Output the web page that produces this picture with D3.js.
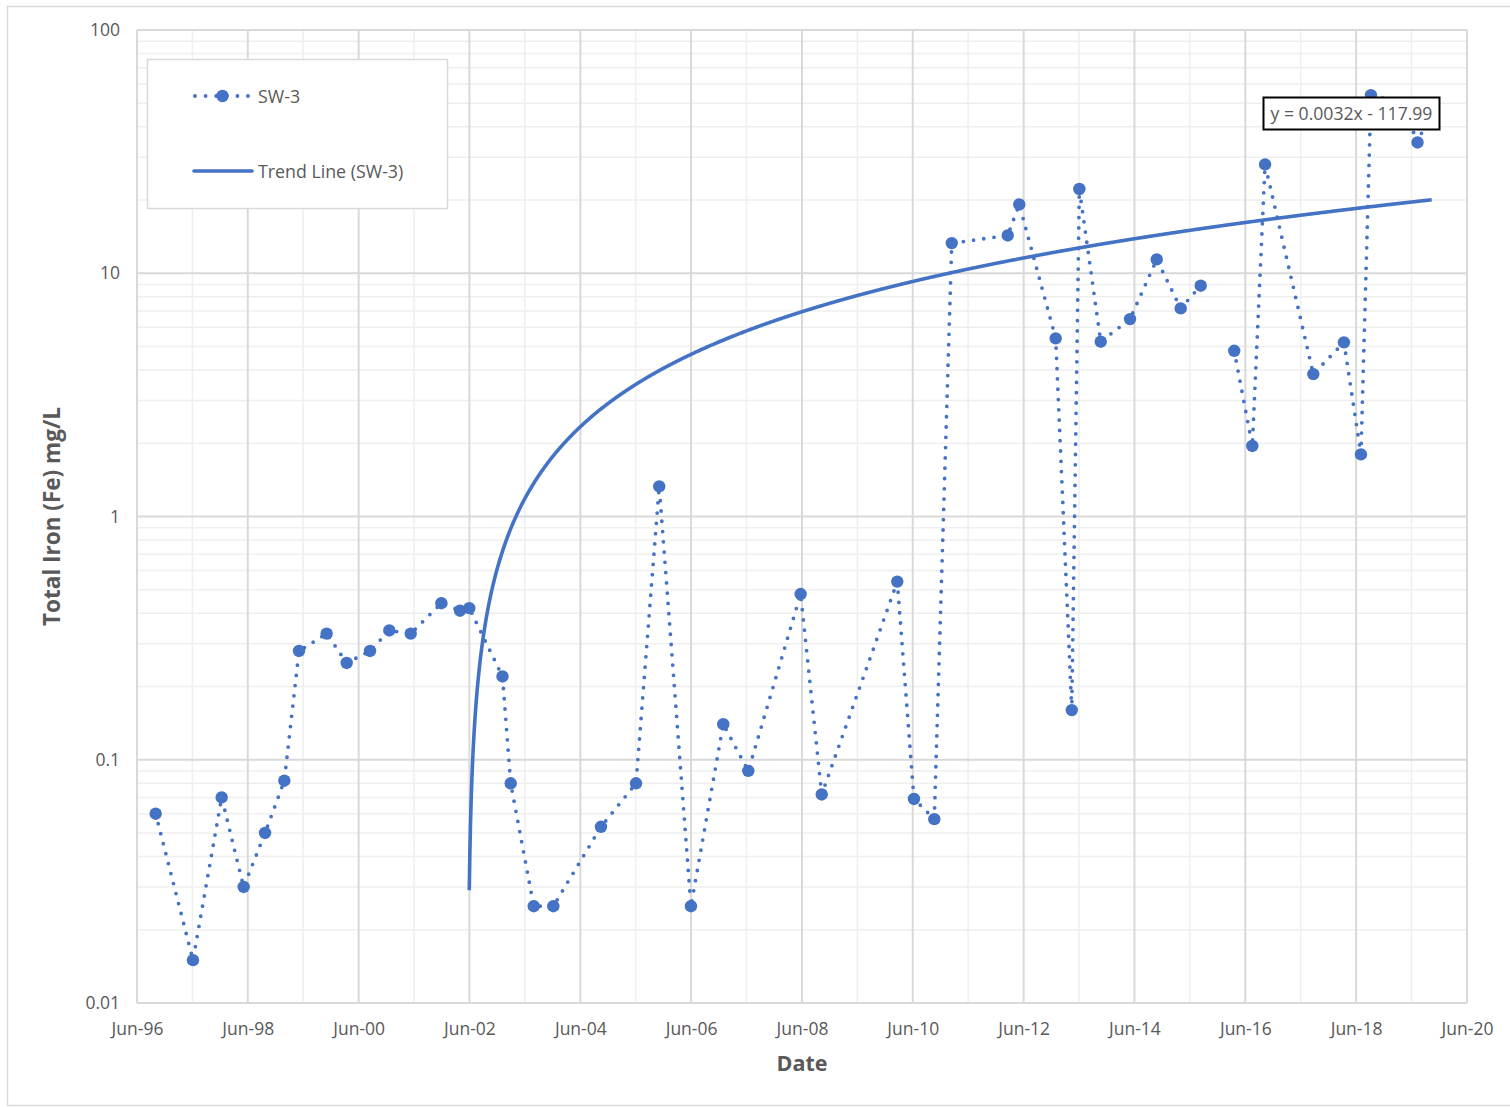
<!DOCTYPE html>
<html>
<head>
<meta charset="utf-8">
<script src="https://cdn.jsdelivr.net/npm/d3@7"></script>
<style>
  html, body { margin: 0; padding: 0; background: #fff; }
  svg { display: block; }
  text { font-family: "Open Sans", "Noto Sans", "DejaVu Sans", sans-serif; fill: #595959; }
</style>
</head>
<body>
<svg id="chart" width="1510" height="1107"></svg>
<script>
// SW-3 total iron samples (mg/L); null marks a missing sample, which breaks the line
const sampleDates = [
  "1996-10-02","1997-06-05","1997-12-11","1998-05-05","1998-09-23","1999-01-28","1999-05-05","1999-11-03","2000-03-14","2000-08-15",
  "2000-12-20","2001-05-10","2001-11-28","2002-03-31","2002-05-31","2003-01-05","2003-02-28","2003-07-30","2003-12-06","2004-10-15",
  "2005-06-03","2005-11-03","2006-05-31","2006-12-30","2007-06-13","2008-05-23","2008-10-09","2010-02-19","2010-06-09","2010-10-21",
  "2011-02-13","2012-02-17","2012-05-03","2012-12-29","2013-04-14","2013-06-03","2013-10-22","2014-05-03","2014-10-26","2015-04-02",
  "2015-08-12","2015-12-01","2016-03-20","2016-07-17","2016-10-09","2017-08-23","2018-03-13","2018-07-03","2018-09-07","2019-03-31",
  "2019-07-11","2019-10-12"
];
const ironValues = [
  0.06, 0.015, 0.07, 0.03, 0.05, 0.082, 0.28, 0.33, 0.25, 0.28,
  0.34, 0.33, 0.44, 0.41, 0.42, 0.22, 0.08, 0.025, 0.025, 0.053,
  0.08, 1.33, 0.025, 0.14, 0.09, 0.48, 0.072, 0.54, 0.069, 0.057,
  13.3, 14.3, 19.2, 5.4, 0.16, 22.2, 5.23, 6.48, 11.4, 7.17,
  8.89, null, 4.8, 1.95, 28, 3.85, 5.2, 1.8, 54, 50,
  34.5, 47
];

// Linear fit of value against spreadsheet serial date (days since 1899-12-30)
const trendSlope = 0.003155;
const trendIntercept = -117.99;

const xTickLabels = ["Jun-96","Jun-98","Jun-00","Jun-02","Jun-04","Jun-06","Jun-08","Jun-10","Jun-12","Jun-14","Jun-16","Jun-18","Jun-20"];
const yTickValues = [0.01, 0.1, 1, 10, 100];
const yTickLabels = ["0.01", "0.1", "1", "10", "100"];

const seriesName = "SW-3";
const trendName = "Trend Line (SW-3)";
const xTitle = "Date";
const yTitle = "Total Iron (Fe) mg/L";

// ---------------------------------------------------------------------------
const W = 1510, H = 1107;
const plot = { left: 137, right: 1467, top: 30, bottom: 1003 };
const blue = "#4472C4";
const fontStack = '"Open Sans", "Noto Sans", sans-serif';

const svg = d3.select("#chart");
const parseIso = d3.utcParse("%Y-%m-%d");
const parseTick = d3.utcParse("%b-%y");
const fmtTick = d3.utcFormat("%b-%y");

const xTicks = xTickLabels.map(parseTick);
const x = d3.scaleUtc()
  .domain([xTicks[0], xTicks[xTicks.length - 1]])
  .range([plot.left, plot.right]);
const y = d3.scaleLog()
  .domain([yTickValues[0], yTickValues[yTickValues.length - 1]])
  .range([plot.bottom, plot.top]);

const data = sampleDates.map((d, i) => ({ date: parseIso(d), value: ironValues[i] }));

// outer chart frame
svg.append("rect")
  .attr("x", 7.5).attr("y", 6.5).attr("width", W + 10).attr("height", H - 8)
  .attr("fill", "#fff").attr("stroke", "#d9d9d9").attr("stroke-width", 1.5);

// gridlines
const grid = svg.append("g");
const minorY = [];
for (let i = 0; i < yTickValues.length - 1; i++) {
  for (let m = 2; m <= 9; m++) minorY.push(yTickValues[i] * m);
}
grid.selectAll(".gy-minor").data(minorY).join("line")
  .attr("x1", plot.left).attr("x2", plot.right)
  .attr("y1", d => y(d)).attr("y2", d => y(d))
  .attr("stroke", "#efefef").attr("stroke-width", 1.5);

const minorX = xTicks.slice(0, -1).map(d => d3.utcMonth.offset(d, 12));
grid.selectAll(".gx-minor").data(minorX).join("line")
  .attr("x1", d => x(d)).attr("x2", d => x(d))
  .attr("y1", plot.top).attr("y2", plot.bottom)
  .attr("stroke", "#efefef").attr("stroke-width", 1.5);

grid.selectAll(".gy-major").data(yTickValues).join("line")
  .attr("x1", plot.left).attr("x2", plot.right)
  .attr("y1", d => y(d)).attr("y2", d => y(d))
  .attr("stroke", "#d9d9d9").attr("stroke-width", 2);

grid.selectAll(".gx-major").data(xTicks).join("line")
  .attr("x1", d => x(d)).attr("x2", d => x(d))
  .attr("y1", plot.top).attr("y2", plot.bottom)
  .attr("stroke", "#d9d9d9").attr("stroke-width", 2);

// axes (labels only; the gridlines act as the axis rules)
const xAxis = d3.axisBottom(x).tickValues(xTicks).tickFormat(fmtTick).tickSize(0).tickPadding(20);
const gx = svg.append("g").attr("transform", `translate(0,${plot.bottom})`).call(xAxis);
gx.select(".domain").remove();
gx.selectAll("text").attr("font-size", 17.5).attr("fill", "#595959")
  .style("font-family", fontStack);

const yAxis = d3.axisLeft(y).tickValues(yTickValues)
  .tickFormat((d, i) => yTickLabels[i]).tickSize(0).tickPadding(17);
const gy = svg.append("g").attr("transform", `translate(${plot.left},0)`).call(yAxis);
gy.select(".domain").remove();
gy.selectAll("text").attr("font-size", 17.5).attr("fill", "#595959")
  .style("font-family", fontStack);

// axis titles
svg.append("text")
  .attr("x", (plot.left + plot.right) / 2).attr("y", 1071)
  .attr("text-anchor", "middle").attr("font-size", 21.5).attr("font-weight", 700)
  .text(xTitle);
svg.append("text")
  .attr("transform", `translate(60,${(plot.top + plot.bottom) / 2}) rotate(-90)`)
  .attr("text-anchor", "middle").attr("font-size", 22.5).attr("font-weight", 700)
  .text(yTitle);

// clip for plot contents
svg.append("clipPath").attr("id", "plot-clip").append("rect")
  .attr("x", plot.left).attr("y", plot.top - 10)
  .attr("width", plot.right - plot.left + 10).attr("height", plot.bottom - plot.top + 10);

// sample series: dotted line with round markers
const line = d3.line()
  .defined(d => d.value != null)
  .x(d => x(d.date)).y(d => y(d.value));

const seriesG = svg.append("g");
seriesG.append("path")
  .datum(data)
  .attr("d", line)
  .attr("fill", "none").attr("stroke", blue).attr("stroke-width", 3.8)
  .attr("stroke-linecap", "round").attr("stroke-dasharray", "0 10.3");
seriesG.selectAll("circle").data(data.filter(d => d.value != null)).join("circle")
  .attr("cx", d => x(d.date)).attr("cy", d => y(d.value)).attr("r", 6.2)
  .attr("fill", blue);

// trend line: fitted straight line, shown from the first observation with a positive fit
const excelEpoch = Date.UTC(1899, 11, 30);
const toSerial = d => (d - excelEpoch) / 864e5;
const fromSerial = s => new Date(excelEpoch + s * 864e5);
const fit = s => trendSlope * s + trendIntercept;

const obsSerials = data.map(d => toSerial(d.date));
const firstPos = obsSerials.find(s => fit(s) > 0);
const lastSerial = obsSerials[obsSerials.length - 1];
const trendSerials = d3.range(firstPos, lastSerial, 4).concat([lastSerial]);
const trendPts = trendSerials.map(s => ({ date: fromSerial(s), value: fit(s) }));

svg.append("path")
  .datum(trendPts)
  .attr("clip-path", "url(#plot-clip)")
  .attr("d", d3.line().x(d => x(d.date)).y(d => y(d.value)))
  .attr("fill", "none").attr("stroke", blue).attr("stroke-width", 3.6);

// trend equation label
const eqText = `y = ${trendSlope.toFixed(4)}x - ${Math.abs(trendIntercept).toFixed(2)}`;
const eqG = svg.append("g");
eqG.append("rect")
  .attr("x", 1263.5).attr("y", 97.5).attr("width", 176).attr("height", 32)
  .attr("fill", "#fff").attr("stroke", "#000").attr("stroke-width", 2);
eqG.append("text")
  .attr("x", 1351.5).attr("y", 120).attr("text-anchor", "middle")
  .attr("font-size", 17.6).text(eqText);

// legend
const lg = svg.append("g");
lg.append("rect")
  .attr("x", 147.5).attr("y", 59.5).attr("width", 300).attr("height", 149)
  .attr("fill", "#fff").attr("stroke", "#d9d9d9").attr("stroke-width", 1.5);
lg.append("line")
  .attr("x1", 195).attr("x2", 250).attr("y1", 96).attr("y2", 96)
  .attr("stroke", blue).attr("stroke-width", 3.8)
  .attr("stroke-linecap", "round").attr("stroke-dasharray", "0 10.6");
lg.append("circle").attr("cx", 222.5).attr("cy", 96).attr("r", 6.2).attr("fill", blue);
lg.append("text").attr("x", 258).attr("y", 102.5).attr("font-size", 17.8).text(seriesName);
lg.append("line")
  .attr("x1", 194).attr("x2", 252).attr("y1", 171).attr("y2", 171)
  .attr("stroke", blue).attr("stroke-width", 3.6).attr("stroke-linecap", "round");
lg.append("text").attr("x", 258).attr("y", 177.5).attr("font-size", 17.8).text(trendName);
</script>
</body>
</html>
